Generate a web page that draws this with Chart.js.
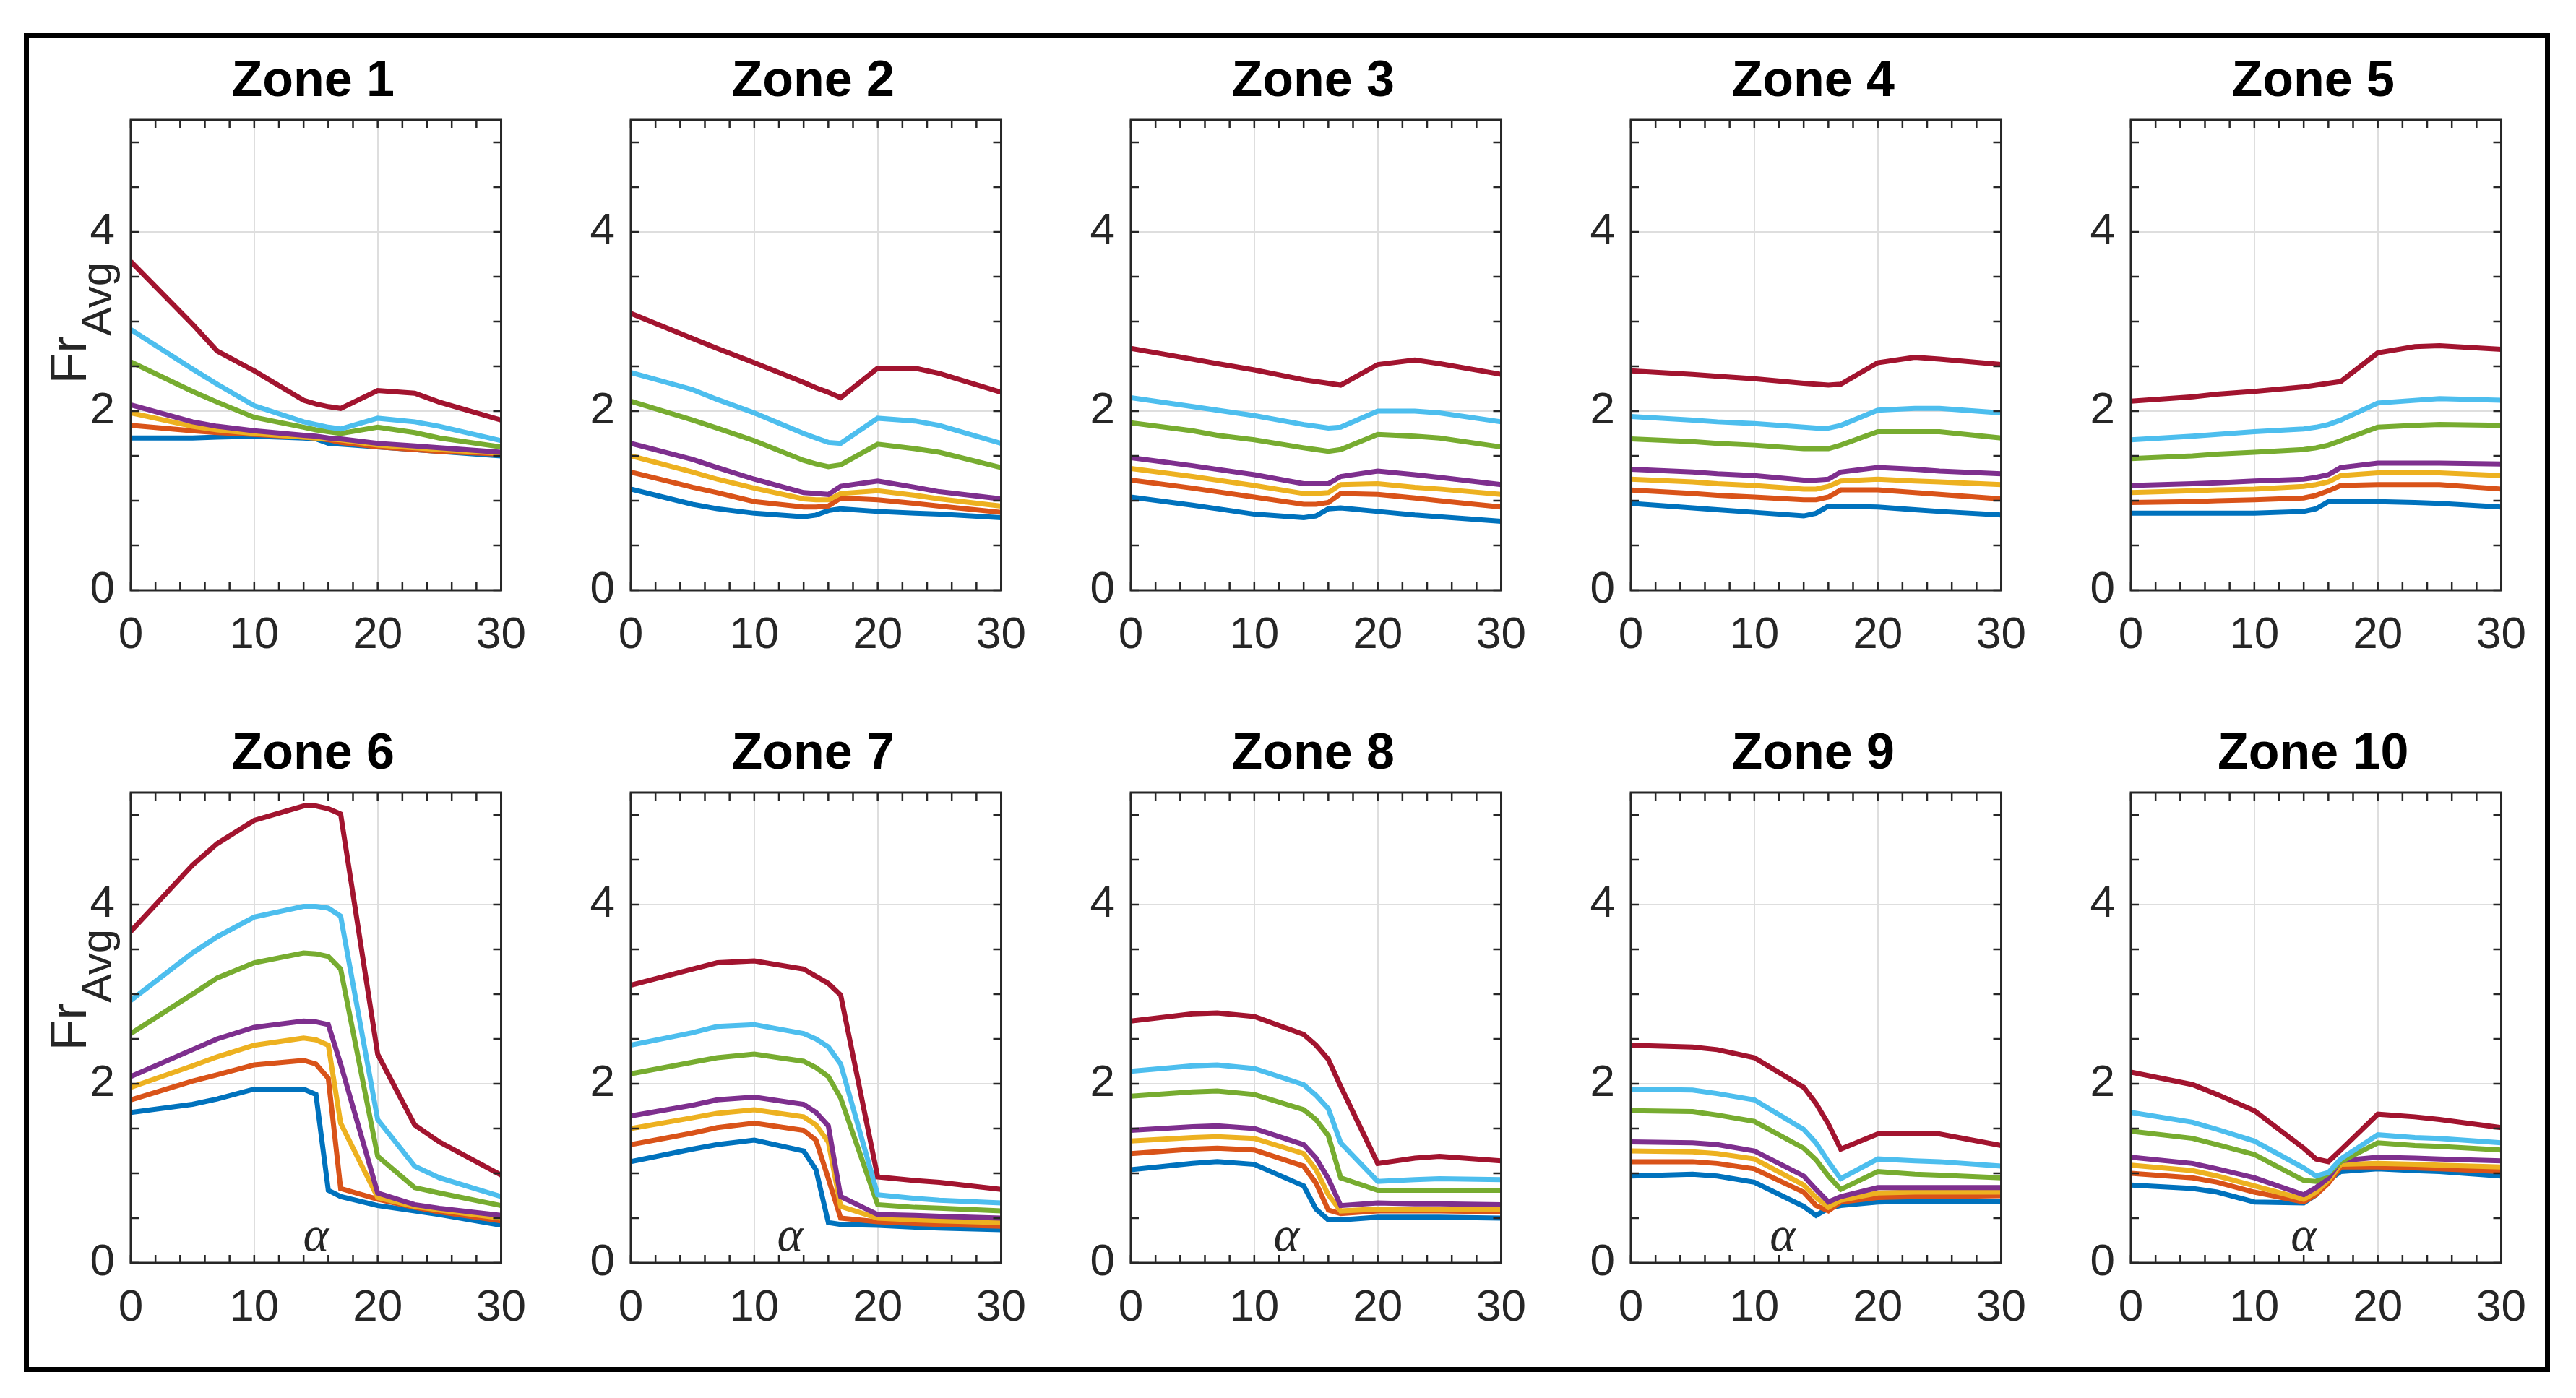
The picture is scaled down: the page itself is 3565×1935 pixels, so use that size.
<!DOCTYPE html>
<html>
<head>
<meta charset="utf-8">
<script src="https://cdn.jsdelivr.net/npm/chart.js@4.4.1/dist/chart.umd.min.js"></script>
<style>
  body { margin: 0; background: #fff; }
  #page { position: relative; width: 3565px; height: 1935px; background: #fff; overflow: hidden; }
  #frame { position: absolute; left: 33px; top: 45px; width: 3496px; height: 1854px; border: 7px solid #000; box-sizing: border-box; }
  canvas { position: absolute; }
</style>
</head>
<body>
<div id="page"><div id="frame"></div></div>
<script>
// Fr_Avg versus alpha for 10 zones, 7 curves per zone

// x values (alpha) shared by every curve
const alphaValues = [0, 5, 7, 10, 14, 15, 16, 17, 20, 23, 25, 30];

const zoneTitles = ['Zone 1', 'Zone 2', 'Zone 3', 'Zone 4', 'Zone 5',
                    'Zone 6', 'Zone 7', 'Zone 8', 'Zone 9', 'Zone 10'];

// MATLAB default line colours, in plotting order
const seriesColors = ['#0072BD', '#D95319', '#EDB120', '#7E2F8E', '#77AC30', '#4DBEEE', '#A2142F'];

const xTicks = [0, 10, 20, 30];
const yTicks = [0, 2, 4];

// one row per curve: blue, orange, yellow, purple, green, light blue, dark red
const zone1 = [
    [1.70, 1.70, 1.71, 1.72, 1.70, 1.69, 1.64, 1.63, 1.60, 1.57, 1.55, 1.50],
    [1.84, 1.78, 1.76, 1.74, 1.71, 1.70, 1.68, 1.65, 1.60, 1.57, 1.55, 1.52],
    [1.98, 1.83, 1.79, 1.75, 1.71, 1.70, 1.69, 1.68, 1.62, 1.59, 1.57, 1.53],
    [2.07, 1.88, 1.83, 1.78, 1.73, 1.72, 1.70, 1.69, 1.64, 1.61, 1.59, 1.54],
    [2.55, 2.22, 2.10, 1.93, 1.82, 1.79, 1.77, 1.75, 1.82, 1.76, 1.70, 1.60],
    [2.91, 2.47, 2.30, 2.06, 1.88, 1.85, 1.82, 1.80, 1.92, 1.88, 1.83, 1.67],
    [3.67, 2.97, 2.67, 2.45, 2.12, 2.08, 2.05, 2.03, 2.23, 2.20, 2.10, 1.90]
];
const zone2 = [
    [1.13, 0.96, 0.91, 0.86, 0.82, 0.84, 0.89, 0.91, 0.88, 0.86, 0.85, 0.81],
    [1.32, 1.15, 1.09, 0.99, 0.93, 0.93, 0.94, 1.03, 1.01, 0.97, 0.94, 0.87],
    [1.50, 1.32, 1.24, 1.14, 1.02, 1.01, 1.01, 1.08, 1.11, 1.06, 1.02, 0.94],
    [1.64, 1.46, 1.37, 1.24, 1.09, 1.08, 1.07, 1.16, 1.22, 1.15, 1.10, 1.02],
    [2.11, 1.90, 1.81, 1.67, 1.45, 1.41, 1.38, 1.40, 1.63, 1.58, 1.54, 1.37],
    [2.43, 2.24, 2.13, 1.98, 1.75, 1.70, 1.65, 1.64, 1.92, 1.89, 1.84, 1.64],
    [3.09, 2.81, 2.70, 2.54, 2.32, 2.26, 2.21, 2.15, 2.48, 2.48, 2.42, 2.21]
];
const zone3 = [
    [1.04, 0.95, 0.91, 0.85, 0.81, 0.83, 0.91, 0.92, 0.88, 0.84, 0.82, 0.77],
    [1.23, 1.14, 1.10, 1.04, 0.96, 0.96, 0.98, 1.08, 1.07, 1.03, 1.00, 0.93],
    [1.36, 1.27, 1.23, 1.17, 1.08, 1.08, 1.09, 1.18, 1.19, 1.15, 1.13, 1.07],
    [1.48, 1.39, 1.35, 1.29, 1.19, 1.19, 1.19, 1.27, 1.33, 1.29, 1.26, 1.18],
    [1.87, 1.78, 1.73, 1.68, 1.59, 1.57, 1.55, 1.57, 1.74, 1.72, 1.70, 1.60],
    [2.15, 2.05, 2.01, 1.95, 1.85, 1.83, 1.81, 1.82, 2.00, 2.00, 1.98, 1.88],
    [2.70, 2.58, 2.53, 2.46, 2.35, 2.33, 2.31, 2.29, 2.52, 2.57, 2.53, 2.41]
];
const zone4 = [
    [0.97, 0.92, 0.90, 0.87, 0.83, 0.86, 0.94, 0.94, 0.93, 0.90, 0.88, 0.84],
    [1.12, 1.08, 1.06, 1.04, 1.01, 1.01, 1.04, 1.12, 1.12, 1.09, 1.07, 1.02],
    [1.24, 1.21, 1.19, 1.17, 1.13, 1.13, 1.16, 1.22, 1.24, 1.22, 1.21, 1.18],
    [1.35, 1.32, 1.30, 1.28, 1.23, 1.23, 1.24, 1.32, 1.37, 1.35, 1.33, 1.30],
    [1.69, 1.66, 1.64, 1.62, 1.58, 1.58, 1.58, 1.62, 1.77, 1.77, 1.77, 1.70],
    [1.94, 1.90, 1.88, 1.86, 1.82, 1.81, 1.81, 1.84, 2.01, 2.03, 2.03, 1.98],
    [2.45, 2.41, 2.39, 2.36, 2.31, 2.30, 2.29, 2.30, 2.54, 2.60, 2.58, 2.52]
];
const zone5 = [
    [0.86, 0.86, 0.86, 0.86, 0.88, 0.91, 0.99, 0.99, 0.99, 0.98, 0.97, 0.93],
    [0.98, 0.99, 1.00, 1.01, 1.03, 1.06, 1.11, 1.17, 1.18, 1.18, 1.18, 1.13],
    [1.09, 1.11, 1.12, 1.13, 1.16, 1.18, 1.21, 1.28, 1.31, 1.31, 1.31, 1.28],
    [1.17, 1.19, 1.20, 1.22, 1.24, 1.26, 1.29, 1.37, 1.42, 1.42, 1.42, 1.41],
    [1.47, 1.50, 1.52, 1.54, 1.57, 1.59, 1.62, 1.67, 1.82, 1.84, 1.85, 1.84],
    [1.68, 1.72, 1.74, 1.77, 1.80, 1.82, 1.85, 1.90, 2.09, 2.12, 2.14, 2.12],
    [2.11, 2.16, 2.19, 2.22, 2.27, 2.29, 2.31, 2.33, 2.65, 2.72, 2.73, 2.69]
];
const zone6 = [
    [1.68, 1.77, 1.83, 1.94, 1.94, 1.88, 0.81, 0.74, 0.64, 0.58, 0.54, 0.42],
    [1.82, 2.03, 2.10, 2.21, 2.26, 2.22, 2.06, 0.83, 0.71, 0.62, 0.57, 0.47],
    [1.96, 2.20, 2.30, 2.43, 2.51, 2.49, 2.43, 1.56, 0.73, 0.63, 0.59, 0.50],
    [2.08, 2.38, 2.50, 2.63, 2.70, 2.69, 2.66, 2.22, 0.78, 0.65, 0.61, 0.53],
    [2.56, 3.00, 3.18, 3.35, 3.46, 3.45, 3.42, 3.28, 1.19, 0.84, 0.78, 0.64],
    [2.93, 3.46, 3.64, 3.86, 3.98, 3.98, 3.96, 3.87, 1.60, 1.08, 0.95, 0.74],
    [3.70, 4.44, 4.68, 4.94, 5.10, 5.10, 5.07, 5.01, 2.33, 1.54, 1.35, 0.98]
];
const zone7 = [
    [1.13, 1.27, 1.32, 1.37, 1.25, 1.04, 0.45, 0.43, 0.42, 0.40, 0.39, 0.37],
    [1.32, 1.45, 1.51, 1.56, 1.48, 1.37, 0.94, 0.50, 0.46, 0.44, 0.43, 0.41],
    [1.50, 1.62, 1.67, 1.71, 1.63, 1.54, 1.35, 0.63, 0.50, 0.48, 0.47, 0.45],
    [1.64, 1.76, 1.82, 1.85, 1.77, 1.68, 1.53, 0.74, 0.54, 0.53, 0.52, 0.50],
    [2.11, 2.24, 2.29, 2.33, 2.25, 2.18, 2.08, 1.84, 0.65, 0.62, 0.61, 0.58],
    [2.43, 2.57, 2.64, 2.66, 2.56, 2.50, 2.41, 2.22, 0.76, 0.72, 0.70, 0.67],
    [3.10, 3.28, 3.35, 3.37, 3.28, 3.20, 3.12, 2.99, 0.96, 0.92, 0.90, 0.82]
];
const zone8 = [
    [1.04, 1.11, 1.13, 1.10, 0.86, 0.60, 0.48, 0.48, 0.51, 0.51, 0.51, 0.50],
    [1.22, 1.27, 1.28, 1.26, 1.08, 0.89, 0.59, 0.55, 0.58, 0.58, 0.58, 0.57],
    [1.36, 1.40, 1.41, 1.39, 1.22, 1.04, 0.76, 0.58, 0.60, 0.60, 0.60, 0.60],
    [1.48, 1.52, 1.53, 1.50, 1.32, 1.17, 0.94, 0.64, 0.67, 0.66, 0.66, 0.65],
    [1.86, 1.91, 1.92, 1.88, 1.71, 1.60, 1.42, 0.95, 0.81, 0.81, 0.81, 0.81],
    [2.14, 2.20, 2.21, 2.17, 1.99, 1.87, 1.72, 1.34, 0.91, 0.93, 0.94, 0.93],
    [2.70, 2.78, 2.79, 2.75, 2.55, 2.43, 2.27, 1.97, 1.11, 1.17, 1.19, 1.14]
];
const zone9 = [
    [0.97, 0.99, 0.97, 0.90, 0.63, 0.53, 0.61, 0.64, 0.68, 0.69, 0.69, 0.69],
    [1.13, 1.13, 1.11, 1.05, 0.79, 0.64, 0.58, 0.68, 0.73, 0.74, 0.74, 0.75],
    [1.25, 1.24, 1.22, 1.16, 0.87, 0.73, 0.62, 0.70, 0.78, 0.79, 0.79, 0.79],
    [1.35, 1.34, 1.32, 1.25, 0.97, 0.82, 0.68, 0.74, 0.84, 0.84, 0.84, 0.84],
    [1.70, 1.69, 1.65, 1.58, 1.28, 1.15, 0.97, 0.82, 1.02, 0.99, 0.98, 0.95],
    [1.94, 1.93, 1.89, 1.82, 1.49, 1.34, 1.13, 0.94, 1.16, 1.14, 1.13, 1.08],
    [2.43, 2.41, 2.38, 2.29, 1.96, 1.78, 1.55, 1.27, 1.44, 1.44, 1.44, 1.31]
];
const zone10 = [
    [0.87, 0.83, 0.79, 0.68, 0.67, 0.76, 0.92, 1.02, 1.05, 1.03, 1.02, 0.97],
    [1.00, 0.95, 0.90, 0.79, 0.68, 0.76, 0.89, 1.07, 1.07, 1.06, 1.05, 1.02],
    [1.09, 1.03, 0.97, 0.86, 0.71, 0.79, 0.92, 1.10, 1.11, 1.10, 1.09, 1.07],
    [1.18, 1.11, 1.05, 0.95, 0.76, 0.84, 0.95, 1.14, 1.18, 1.17, 1.16, 1.14],
    [1.47, 1.39, 1.32, 1.21, 0.92, 0.91, 1.00, 1.13, 1.34, 1.31, 1.30, 1.26],
    [1.68, 1.57, 1.49, 1.36, 1.06, 0.97, 1.01, 1.16, 1.43, 1.40, 1.39, 1.34],
    [2.13, 1.99, 1.88, 1.70, 1.28, 1.16, 1.13, 1.26, 1.66, 1.63, 1.60, 1.51]
];
const zoneData = [zone1, zone2, zone3, zone4, zone5, zone6, zone7, zone8, zone9, zone10];

// where the alpha label sits in the bottom row (x in data units)
const alphaLabelX = [15.0, 12.9, 12.6, 12.3, 14.0];
const alphaLabelY = 0.28;

// page layout (px)
const AXES_LEFT = 181;
const AXES_STEP = 692;
const AXES_W = 513;
const AXES_H = 651;
const AXES_TOP = [166, 1097];
const YTITLE_OFFSET = [281, 273];
const PAD_LEFT = 170;
const PAD_TOP = 160;
const PAD_RIGHT = 60;
const PAD_BOTTOM = 120;
const TICK_LEN = 11;

// Draws the MATLAB style box, inward ticks, title, y label and alpha label
const panelDecor = {
    id: 'panelDecor',
    afterDraw(chart, args, opts) {
        const ctx = chart.ctx;
        const a = chart.chartArea;
        const xs = chart.scales.x;
        const ys = chart.scales.y;

        ctx.save();
        ctx.strokeStyle = '#262626';
        ctx.lineWidth = 2.5;
        ctx.beginPath();
        for (let v = 0; v <= 30; v += 2) {
            const px = xs.getPixelForValue(v);
            ctx.moveTo(px, a.bottom); ctx.lineTo(px, a.bottom - TICK_LEN);
            ctx.moveTo(px, a.top); ctx.lineTo(px, a.top + TICK_LEN);
        }
        for (let v = 0; v <= 5; v += 0.5) {
            const py = ys.getPixelForValue(v);
            ctx.moveTo(a.left, py); ctx.lineTo(a.left + TICK_LEN, py);
            ctx.moveTo(a.right, py); ctx.lineTo(a.right - TICK_LEN, py);
        }
        ctx.stroke();

        ctx.lineWidth = 3;
        ctx.strokeRect(a.left, a.top, a.right - a.left, a.bottom - a.top);

        // panel title
        ctx.fillStyle = '#000';
        ctx.font = 'bold 70px "Liberation Sans"';
        ctx.textAlign = 'center';
        ctx.textBaseline = 'alphabetic';
        ctx.fillText(opts.title, (a.left + a.right) / 2 - 4, a.top - 33);

        // y axis label Fr_Avg
        if (opts.yTitle) {
            ctx.fillStyle = '#262626';
            ctx.save();
            ctx.translate(a.left - 62, a.top + opts.yTitleOffset);
            ctx.rotate(-Math.PI / 2);
            ctx.textAlign = 'left';
            ctx.font = '70px "Liberation Sans"';
            const w1 = ctx.measureText('Fr').width;
            ctx.font = '60px "Liberation Sans"';
            const w2 = ctx.measureText('Avg').width;
            const start = -(w1 + w2) / 2;
            ctx.font = '70px "Liberation Sans"';
            ctx.fillText('Fr', start, 0);
            ctx.font = '60px "Liberation Sans"';
            ctx.fillText('Avg', start + w1, 35);
            ctx.restore();
        }

        // alpha label inside the axes
        if (opts.alphaX !== null) {
            ctx.fillStyle = '#262626';
            ctx.font = 'italic 68px "Liberation Serif"';
            ctx.textAlign = 'center';
            ctx.textBaseline = 'middle';
            ctx.fillText('\u03B1', xs.getPixelForValue(opts.alphaX), ys.getPixelForValue(alphaLabelY));
        }
        ctx.restore();
    }
};

function buildPanel(index) {
    const row = index < 5 ? 0 : 1;
    const col = index % 5;
    const canvas = document.createElement('canvas');
    const w = PAD_LEFT + AXES_W + PAD_RIGHT;
    const h = PAD_TOP + AXES_H + PAD_BOTTOM;
    canvas.width = w;
    canvas.height = h;
    canvas.style.left = (AXES_LEFT + col * AXES_STEP - PAD_LEFT) + 'px';
    canvas.style.top = (AXES_TOP[row] - PAD_TOP) + 'px';
    canvas.style.width = w + 'px';
    canvas.style.height = h + 'px';
    document.getElementById('page').appendChild(canvas);

    const datasets = zoneData[index].map(function(values, i) {
        return {
            data: values.map(function(v, j) { return { x: alphaValues[j], y: v }; }),
            borderColor: seriesColors[i],
            borderWidth: 7,
            pointRadius: 0,
            tension: 0,
            fill: false,
            order: seriesColors.length - i
        };
    });

    const tickFont = { family: '"Liberation Sans", Arial, sans-serif', size: 62 };

    new Chart(canvas.getContext('2d'), {
        type: 'line',
        data: { datasets: datasets },
        plugins: [panelDecor],
        options: {
            responsive: false,
            animation: false,
            devicePixelRatio: 1,
            layout: { padding: { left: 0, top: PAD_TOP, right: PAD_RIGHT, bottom: 0 } },
            plugins: {
                legend: { display: false },
                tooltip: { enabled: false },
                panelDecor: {
                    title: zoneTitles[index],
                    yTitle: col === 0,
                    yTitleOffset: YTITLE_OFFSET[row],
                    alphaX: row === 1 ? alphaLabelX[col] : null
                }
            },
            scales: {
                x: {
                    type: 'linear',
                    min: 0,
                    max: 30,
                    afterBuildTicks: function(s) { s.ticks = xTicks.map(function(v) { return { value: v }; }); },
                    afterFit: function(s) { s.height = PAD_BOTTOM; },
                    ticks: { font: tickFont, color: '#262626', padding: 26, maxRotation: 0, autoSkip: false },
                    grid: { color: '#dedede', lineWidth: 2, drawTicks: false },
                    border: { display: false }
                },
                y: {
                    min: 0,
                    max: 5.25,
                    afterBuildTicks: function(s) { s.ticks = yTicks.map(function(v) { return { value: v }; }); },
                    afterFit: function(s) { s.width = PAD_LEFT; },
                    ticks: { font: tickFont, color: '#262626', padding: 22 },
                    grid: { color: '#dedede', lineWidth: 2, drawTicks: false },
                    border: { display: false }
                }
            }
        }
    });
}

for (let i = 0; i < zoneData.length; i++) {
    buildPanel(i);
}
</script>
</body>
</html>
